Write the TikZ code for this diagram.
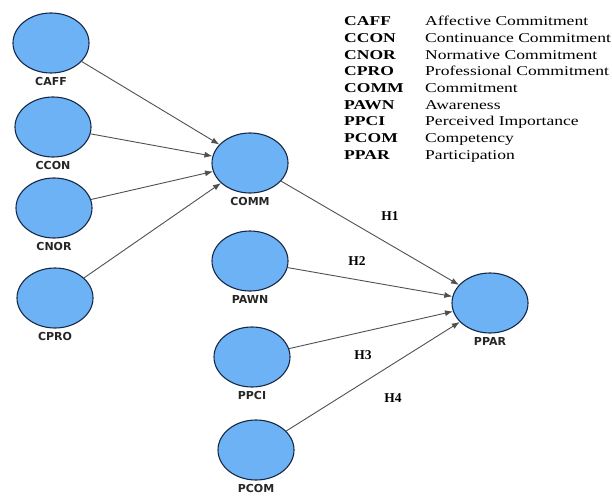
\documentclass[tikz,border=0pt]{standalone}
\usepackage{fontspec}
\setmainfont{Liberation Serif}
\newfontfamily\legendfont[FakeStretch=1.3]{Liberation Serif}
\newfontfamily\labelfont{DejaVu Sans}
\usepackage{tikz}
\usetikzlibrary{matrix, positioning, shapes.geometric, arrows.meta}
\definecolor{constructfill}{RGB}{108,178,244}
\definecolor{constructline}{RGB}{22,40,70}
\definecolor{pathline}{RGB}{80,80,80}
\tikzset{
	construct/.style={
		draw=constructline,
		fill=constructfill,
		ellipse,
		line width=1.1pt,
		inner sep=0pt,
		minimum width=76pt,
		minimum height=60pt
	},
	constructdsc/.style={
		font=\labelfont\bfseries\fontsize{11}{11}\selectfont,
		text=black!85,
		inner sep=1pt
	},
	hypothesis/.style={
		font=\bfseries\fontsize{13.5}{14}\selectfont,
		inner sep=0pt
	},
	legend/.style={
		matrix of nodes,
		inner sep=0pt,
		nodes={anchor=base west, inner sep=0pt, font=\legendfont\fontsize{13.5}{14}\selectfont},
		row sep={between origins, 16.7pt},
		column sep={between origins, 81pt}
	}
}

\begin{document}
\begin{tikzpicture}[x=1pt, y=-1pt]
	\useasboundingbox (0,0) rectangle (612,497);

	% constructs
	\foreach \name/\px/\py/\txt in {caff/51/43/CAFF, ccon/53/127/CCON, cnor/54/208/CNOR, cpro/55/298/CPRO,
		comm/250/163/COMM, pawn/250/261/PAWN, ppci/252/357/PPCI, pcom/256/450/PCOM, ppar/490/303/PPAR} {
		\node[construct] (\name) at (\px,\py) {};
		\node[constructdsc, below=2.5pt of \name] (\name dsc) {\txt};
	}

	% paths
	\begin{scope}[pathline, line width=0.9pt, -{Latex[length=8pt, width=6pt]}]
	% first order -> commitment
	\foreach \src in {caff,ccon,cnor,cpro} {
		\draw (\src) -- (comm);
	}
	% structural model
	\foreach \src in {comm,pawn,ppci,pcom} {
		\draw (\src) -- (ppar);
	}
	\end{scope}

	% hypotheses
	\node[hypothesis] (h1) at (390,216) {H1};
	\node[hypothesis] (h2) at (357,261) {H2};
	\node[hypothesis] (h3) at (363,355) {H3};
	\node[hypothesis] (h4) at (393,398) {H4};

	% legend
	\matrix[legend, anchor=north west] (abbr) at (344,16) {
		\textbf{CAFF} & Affective Commitment \\
		\textbf{CCON} & Continuance Commitment \\
		\textbf{CNOR} & Normative Commitment \\
		\textbf{CPRO} & Professional Commitment \\
		\textbf{COMM} & Commitment \\
		\textbf{PAWN} & Awareness \\
		\textbf{PPCI} & Perceived Importance \\
		\textbf{PCOM} & Competency \\
		\textbf{PPAR} & Participation \\
	};
\end{tikzpicture}
\end{document}
